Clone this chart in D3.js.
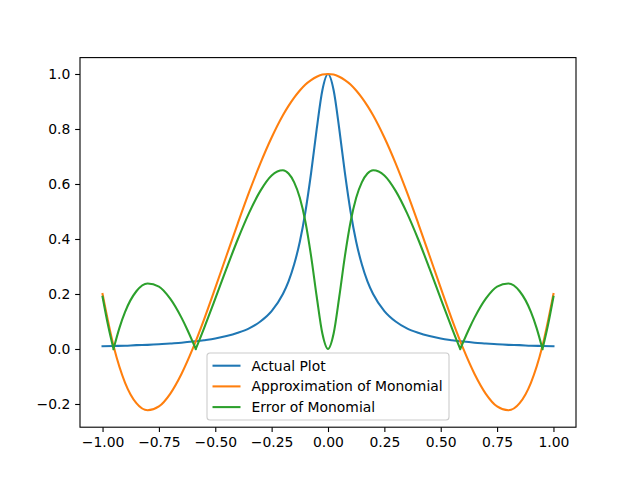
<!DOCTYPE html>
<html>
<head>
<meta charset="utf-8">
<script src="https://cdn.jsdelivr.net/npm/d3@7"></script>
<style>
  body { margin: 0; background: #fff; }
  text { font-family: "DejaVu Sans", sans-serif; }
</style>
</head>
<body>
<svg id="chart" width="640" height="480"></svg>
<script>
// x positions shared by the actual curve and the approximation
const xs = [-1, -0.95, -0.9, -0.85, -0.8, -0.75, -0.7, -0.65, -0.6, -0.55, -0.5, -0.45, -0.4, -0.35, -0.3, -0.25,
            -0.2, -0.175, -0.15, -0.125, -0.1, -0.075, -0.05, -0.025, 0,
            0.025, 0.05, 0.075, 0.1, 0.125, 0.15, 0.175, 0.2,
            0.25, 0.3, 0.35, 0.4, 0.45, 0.5, 0.55, 0.6, 0.65, 0.7, 0.75, 0.8, 0.85, 0.9, 0.95, 1];

const actualVals = [0.010, 0.011, 0.012, 0.014, 0.015, 0.017, 0.020, 0.023, 0.027, 0.032, 0.038, 0.047, 0.059, 0.075, 0.100, 0.138,
                    0.200, 0.246, 0.308, 0.390, 0.500, 0.640, 0.800, 0.941, 1.000,
                    0.941, 0.800, 0.640, 0.500, 0.390, 0.308, 0.246, 0.200,
                    0.138, 0.100, 0.075, 0.059, 0.047, 0.038, 0.032, 0.027, 0.023, 0.020, 0.017, 0.015, 0.014, 0.012, 0.011, 0.010];

const approxVals = [0.200, 0.007, -0.123, -0.197, -0.223, -0.209, -0.163, -0.091, 0.001, 0.107, 0.222, 0.340, 0.457, 0.570, 0.675, 0.769,
                    0.850, 0.884, 0.914, 0.940, 0.962, 0.978, 0.990, 0.998, 1.000,
                    0.998, 0.990, 0.978, 0.962, 0.940, 0.914, 0.884, 0.850,
                    0.769, 0.675, 0.570, 0.457, 0.340, 0.222, 0.107, 0.001, -0.091, -0.163, -0.209, -0.223, -0.197, -0.123, 0.007, 0.200];

// error curve has its own x positions (includes the sharp zeros)
const errXs = [-1, -0.975, -0.9514, -0.925, -0.9, -0.85, -0.8, -0.75, -0.7, -0.65, -0.625, -0.6, -0.5865, -0.575, -0.55,
               -0.5, -0.45, -0.4, -0.35, -0.3, -0.25, -0.2, -0.175, -0.15, -0.125, -0.1, -0.075, -0.05, -0.025, 0,
               0.025, 0.05, 0.075, 0.1, 0.125, 0.15, 0.175, 0.2, 0.25, 0.3, 0.35, 0.4, 0.45, 0.5,
               0.55, 0.575, 0.5865, 0.6, 0.625, 0.65, 0.7, 0.75, 0.8, 0.85, 0.9, 0.925, 0.9514, 0.975, 1];
const errVals = [0.190, 0.084, 0.000, 0.077, 0.135, 0.210, 0.238, 0.227, 0.183, 0.114, 0.072, 0.026, 0.000, 0.023, 0.075,
                 0.183, 0.293, 0.399, 0.495, 0.575, 0.631, 0.650, 0.638, 0.606, 0.550, 0.462, 0.338, 0.190, 0.056, 0.000,
                 0.056, 0.190, 0.338, 0.462, 0.550, 0.606, 0.638, 0.650, 0.631, 0.575, 0.495, 0.399, 0.293, 0.183,
                 0.075, 0.023, 0.000, 0.026, 0.072, 0.114, 0.183, 0.227, 0.238, 0.210, 0.135, 0.077, 0.000, 0.084, 0.190];
const errCusps = [-0.9514, -0.5865, 0.5865, 0.9514];

const xTicks = [-1, -0.75, -0.5, -0.25, 0, 0.25, 0.5, 0.75, 1];
const xTickLabels = ["\u22121.00", "\u22120.75", "\u22120.50", "\u22120.25", "0.00", "0.25", "0.50", "0.75", "1.00"];
const yTicks = [-0.2, 0, 0.2, 0.4, 0.6, 0.8, 1.0];
const yTickLabels = ["\u22120.2", "0.0", "0.2", "0.4", "0.6", "0.8", "1.0"];

const seriesNames = ["Actual Plot", "Approximation of Monomial", "Error of Monomial"];
const seriesColors = ["#1f77b4", "#ff7f0e", "#2ca02c"];

const W = 640, H = 480;
const AX = { left: 80, right: 576, top: 57.6, bottom: 427.2 };

const svg = d3.select("#chart");

const x = d3.scaleLinear().domain([-1.1, 1.1]).range([AX.left, AX.right]);
const y = d3.scaleLinear().domain([-0.2844, 1.0596]).range([AX.bottom, AX.top]);

const line = d3.line()
  .x(d => x(d[0]))
  .y(d => y(d[1]))
  .curve(d3.curveMonotoneX);

const plot = svg.append("g");

// actual + approximation
[actualVals, approxVals].forEach((vals, i) => {
  plot.append("path")
    .datum(xs.map((v, j) => [v, vals[j]]))
    .attr("d", line)
    .attr("fill", "none")
    .attr("stroke", seriesColors[i])
    .attr("stroke-width", 2.08)
    .attr("stroke-linejoin", "round")
    .attr("stroke-linecap", "square");
});

// error: split into pieces at the sharp zeros so they stay pointed
const errPts = errXs.map((v, j) => [v, errVals[j]]);
let pieces = [[]];
errPts.forEach(p => {
  pieces[pieces.length - 1].push(p);
  if (errCusps.includes(p[0])) pieces.push([p]);
});
plot.append("path")
  .attr("d", pieces.map(pc => line(pc)).join(""))
  .attr("fill", "none")
  .attr("stroke", seriesColors[2])
  .attr("stroke-width", 2.08)
  .attr("stroke-linejoin", "round")
  .attr("stroke-linecap", "square");

// axes
const xAxis = d3.axisBottom(x)
  .tickValues(xTicks)
  .tickFormat((d, i) => xTickLabels[i])
  .tickSize(4.86).tickPadding(4.86);
const yAxis = d3.axisLeft(y)
  .tickValues(yTicks)
  .tickFormat((d, i) => yTickLabels[i])
  .tickSize(4.86).tickPadding(4.86);

const gx = svg.append("g").attr("transform", `translate(0,${AX.bottom})`).call(xAxis);
const gy = svg.append("g").attr("transform", `translate(${AX.left},0)`).call(yAxis);
[gx, gy].forEach(g => {
  g.select(".domain").remove();
  g.selectAll(".tick line").attr("stroke", "#000").attr("stroke-width", 1.1);
  g.selectAll(".tick text").attr("fill", "#000").attr("font-size", 13.9)
    .attr("font-family", "DejaVu Sans, sans-serif");
});

// frame
svg.append("rect")
  .attr("x", AX.left).attr("y", AX.top)
  .attr("width", AX.right - AX.left).attr("height", AX.bottom - AX.top)
  .attr("fill", "none").attr("stroke", "#000").attr("stroke-width", 1.1);

// legend
const leg = svg.append("g").attr("transform", "translate(207,353)");
leg.append("rect")
  .attr("width", 242).attr("height", 67)
  .attr("rx", 3).attr("ry", 3)
  .attr("fill", "#fff").attr("fill-opacity", 0.8)
  .attr("stroke", "#ccc").attr("stroke-width", 1.1);
seriesNames.forEach((name, i) => {
  const ry = 12.7 + i * 20.7;
  leg.append("line")
    .attr("x1", 5.5).attr("x2", 33.5)
    .attr("y1", ry).attr("y2", ry)
    .attr("stroke", seriesColors[i]).attr("stroke-width", 2.08);
  leg.append("text")
    .attr("x", 44.5).attr("y", ry)
    .attr("dy", "0.35em")
    .attr("font-size", 13.9)
    .attr("fill", "#000")
    .text(name);
});
</script>
</body>
</html>
